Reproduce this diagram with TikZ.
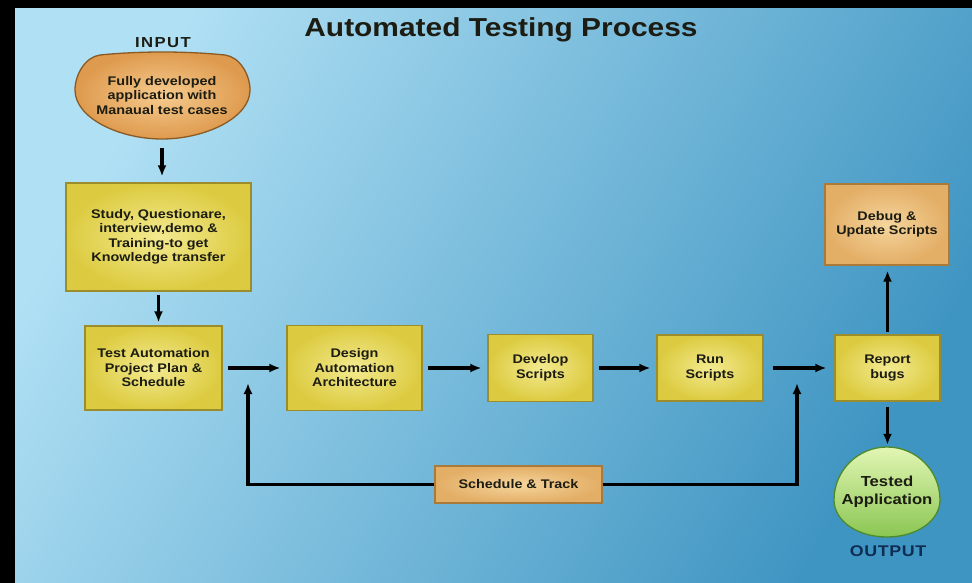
\documentclass[tikz,border=0pt]{standalone}
\usepackage{fontspec}
\usetikzlibrary{arrows.meta,shadings}
\newfontfamily\dfont{Liberation Sans}[FakeStretch=1.15]
\newcommand\bxfont{\dfont\bfseries\fontsize{12.5}{14.5}\selectfont}
\newcommand\bigbxfont{\dfont\bfseries\fontsize{14.5}{18}\selectfont}
\definecolor{bgA}{HTML}{B0E0F4}
\definecolor{bgM}{HTML}{6AB5DA}
\definecolor{bgB}{HTML}{3F95C2}
\definecolor{yin}{HTML}{F3EA90}
\definecolor{yout}{HTML}{DCCB40}
\definecolor{ybord}{HTML}{9C8D2C}
\definecolor{oin}{HTML}{F5D59C}
\definecolor{oout}{HTML}{E3AE66}
\definecolor{obord}{HTML}{A97A3A}
\definecolor{bin}{HTML}{F6CB8E}
\definecolor{bout}{HTML}{DE9A4E}
\definecolor{bbord}{HTML}{8A5A24}
\definecolor{gA}{HTML}{E2F6B4}
\definecolor{gB}{HTML}{8AC652}
\definecolor{gbord}{HTML}{4E8A2C}
\definecolor{txt}{HTML}{1C1C12}
\definecolor{navy}{HTML}{0F2C52}
\begin{document}
\begin{tikzpicture}[x=1pt,y=-1pt,
  ybox/.style={draw=ybord, line width=1.2pt, inner color=yin, outer color=yout,
    text=txt, font=\bxfont, align=center, inner sep=0pt},
  obox/.style={draw=obord, line width=1.2pt, inner color=oin, outer color=oout,
    text=txt, font=\bxfont, align=center, inner sep=0pt},
  ghost/.style={inner sep=0pt, text=txt, align=center},
  conn/.style={line width=3.5pt, -{Latex[length=11pt,width=9pt]}, shorten <=5pt, shorten >=6pt},
  fbline/.style={line width=3.5pt, -{Latex[length=11pt,width=9pt]}}
]
\useasboundingbox (0,0) rectangle (972,583);
\fill[black] (0,0) rectangle (972,583);
\shade[top color=bgA, middle color=bgM, bottom color=bgB, shading angle=60] (15,9) rectangle (972,582);

% title and labels
\node[font=\dfont\bfseries\fontsize{26}{30}\selectfont, text=txt] (title) at (501,30) {Automated Testing Process};
\node[font=\dfont\bfseries\fontsize{14.5}{16}\selectfont\addfontfeature{LetterSpace=10}, text=txt] (inlabel) at (163,43) {INPUT};
\node[font=\dfont\bfseries\fontsize{15.5}{17}\selectfont\addfontfeature{LetterSpace=4}, text=navy] (outlabel) at (888,551) {OUTPUT};

% input blob
\draw[draw=bbord, line width=1.3pt, inner color=bin, outer color=bout]
  (100,55) .. controls (140,51) and (185,51) .. (225,55)
  .. controls (240,57) and (250,75) .. (250,90)
  .. controls (250,118) and (205,139) .. (162,139)
  .. controls (119,139) and (75,118) .. (75,90)
  .. controls (75,75) and (85,57) .. (100,55) -- cycle;
\node[ghost, font=\bxfont, minimum width=175pt, minimum height=86pt] (input) at (162,97)
  {\raisebox{7pt}{\begin{tabular}{@{}c@{}}Fully developed\\application with\\Manaual test cases\end{tabular}}};

% output circle
\draw[draw=gbord, line width=1.3pt, top color=gA, bottom color=gB]
  (834,500) .. controls (834,470.7) and (857.7,447) .. (887,447)
  .. controls (916.3,447) and (940,470.7) .. (940,500)
  .. controls (940,521) and (916.3,537) .. (887,537)
  .. controls (857.7,537) and (834,521) .. (834,500) -- cycle;
\node[ghost, font=\bigbxfont, minimum width=106pt, minimum height=90pt] (tested) at (887,492) {Tested\\Application};

% boxes
\node[ybox, minimum width=185pt, minimum height=108pt] (study) at (158.5,237)
  {Study, Questionare,\\interview,demo \&\\Training-to get\\Knowledge transfer};
\node[ybox, minimum width=137pt, minimum height=84pt] (plan) at (153.5,368)
  {Test Automation\\Project Plan \&\\Schedule};
\node[ybox, minimum width=135pt, minimum height=85pt] (design) at (354.5,368)
  {Design\\Automation\\Architecture};
\node[ybox, minimum width=105pt, minimum height=67pt] (develop) at (540.5,368)
  {Develop\\Scripts};
\node[ybox, minimum width=106pt, minimum height=66pt] (run) at (710,368)
  {Run\\Scripts};
\node[ybox, minimum width=105pt, minimum height=66pt] (report) at (887.5,368)
  {Report\\bugs};
\node[obox, minimum width=124pt, minimum height=81pt] (debug) at (887,224.5)
  {Debug \&\\Update Scripts};
\node[obox, minimum width=167pt, minimum height=37pt] (sched) at (518.5,484.5)
  {Schedule \& Track};

% connectors
\draw[conn, shorten <=8pt] (input.south) -- (input.south |- study.north);
\draw[conn, shorten <=3pt, shorten >=3pt] (study.south) -- (study.south |- plan.north);
\draw[conn] (plan.east) -- (design.west);
\draw[conn] (design.east) -- (develop.west);
\draw[conn] (develop.east) -- (run.west);
\draw[conn, shorten <=9pt, shorten >=8pt] (run.east) -- (report.west);
\draw[conn, shorten <=2pt, shorten >=5pt] (report.north) -- (report.north |- debug.south);
\draw[conn, shorten <=5pt, shorten >=2pt] (report.south) -- (report.south |- tested.north);
\coordinate (fbL) at (248,383);
\coordinate (fbR) at (797,383);
\draw[fbline] (sched.west) -| (fbL);
\draw[fbline] (sched.east) -| (fbR);
\end{tikzpicture}
\end{document}
